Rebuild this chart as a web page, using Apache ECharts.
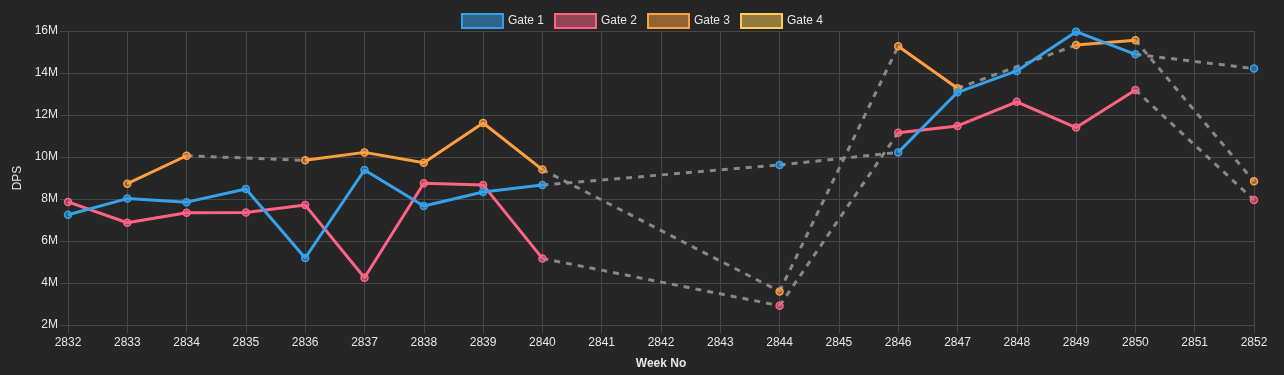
<!DOCTYPE html>
<html>
<head>
<meta charset="utf-8">
<script src="https://cdn.jsdelivr.net/npm/echarts@6/dist/echarts.min.js"></script>
<style>
html,body{margin:0;padding:0;background:#262626;}
#chart{width:1284px;height:375px;}
</style>
</head>
<body>
<div id="chart"></div>
<script>
const weeks = ['2832','2833','2834','2835','2836','2837','2838','2839','2840','2841','2842','2843','2844','2845','2846','2847','2848','2849','2850','2851','2852'];
const gate1 = [7.25, 8.02, 7.85, 8.48, 5.19, 9.38, 7.67, 8.33, 8.67, null, null, null, 9.62, null, 10.22, 13.08, 14.1, 15.97, 14.89, null, 14.21];
const gate2 = [7.86, 6.87, 7.35, 7.36, 7.71, 4.25, 8.75, 8.67, 5.17, null, null, null, 2.92, null, 11.16, 11.48, 12.63, 11.4, 13.19, null, 7.95];
const gate3 = [null, 8.73, 10.06, null, 9.84, 10.22, 9.73, 11.62, 9.4, null, null, null, 3.6, null, 15.27, 13.27, null, 15.33, 15.56, null, 8.84];
const gate4 = [null, null, null, null, null, null, null, null, null, null, null, null, null, null, null, null, null, null, null, null, null];
const seriesNames = ['Gate 1', 'Gate 2', 'Gate 3', 'Gate 4'];
const yTicks = [2, 4, 6, 8, 10, 12, 14, 16];

const colors = [[54,162,235],[255,99,132],[255,159,64],[255,205,86]];
const allData = [gate1, gate2, gate3, gate4];
const M = 1e6;

function gapSegments(arr) {
  const segs = [];
  let prev = -1;
  for (let i = 0; i < arr.length; i++) {
    if (arr[i] !== null) {
      if (prev >= 0 && i - prev > 1) segs.push([prev, i]);
      prev = i;
    }
  }
  return segs;
}

const series = [];
allData.forEach((arr, k) => {
  gapSegments(arr).forEach(([a, b]) => {
    const d = arr.map(() => null);
    d[a] = arr[a] * M; d[b] = arr[b] * M;
    series.push({
      type: 'line', name: seriesNames[k] + ' gap', data: d, connectNulls: true,
      symbol: 'none', silent: true, z: 1,
      lineStyle: { color: '#888888', width: 3, type: [6, 6] },
      emphasis: { disabled: true }
    });
  });
});
allData.forEach((arr, k) => {
  const c = colors[k];
  series.push({
    type: 'line', name: seriesNames[k],
    data: arr.map(v => v === null ? null : v * M),
    connectNulls: false,
    symbol: 'circle', symbolSize: 7,
    z: 6 - k,
    lineStyle: { color: `rgb(${c.join(',')})`, width: 3 },
    itemStyle: { color: `rgba(${c.join(',')},0.5)`, borderColor: `rgb(${c.join(',')})`, borderWidth: 1.5 },
    emphasis: { disabled: true }
  });
});

const chart = echarts.init(document.getElementById('chart'));
chart.setOption({
  backgroundColor: '#262626',
  animation: false,
  textStyle: { fontFamily: 'Liberation Sans, Arial, sans-serif' },
  legend: {
    top: 8, left: 'center',
    icon: 'rect', itemWidth: 41, itemHeight: 14, itemGap: 10,
    data: seriesNames.map((n, k) => ({
      name: n,
      itemStyle: { color: `rgba(${colors[k].join(',')},0.5)`, borderColor: `rgb(${colors[k].join(',')})`, borderWidth: 2 }
    })),
    textStyle: { color: '#e6e6e6', fontSize: 12 }
  },
  grid: { left: 68, right: 30, top: 31, bottom: 50 },
  xAxis: {
    type: 'category', data: weeks, boundaryGap: false,
    name: 'Week No', nameLocation: 'middle', nameGap: 33,
    nameTextStyle: { color: '#e6e6e6', fontSize: 12, fontWeight: 'bold' },
    axisLine: { show: true, lineStyle: { color: '#474747', width: 1 } },
    axisTick: { show: true, length: 8, lineStyle: { color: '#474747' } },
    axisLabel: { color: '#e6e6e6', fontSize: 12, margin: 12, interval: 0 },
    splitLine: { show: true, lineStyle: { color: '#474747', width: 1 } }
  },
  yAxis: {
    type: 'value', min: yTicks[0] * M, max: yTicks[yTicks.length - 1] * M, interval: 2 * M,
    name: 'DPS', nameLocation: 'middle', nameGap: 38, nameRotate: 90,
    nameTextStyle: { color: '#e6e6e6', fontSize: 12 },
    axisLine: { show: true, lineStyle: { color: '#474747', width: 1 } },
    axisTick: { show: true, length: 8, lineStyle: { color: '#474747' } },
    axisLabel: { color: '#e6e6e6', fontSize: 12, margin: 10, formatter: v => (v / M) + 'M' },
    splitLine: { show: true, lineStyle: { color: '#474747', width: 1 } }
  },
  series: series
});
</script>
</body>
</html>
